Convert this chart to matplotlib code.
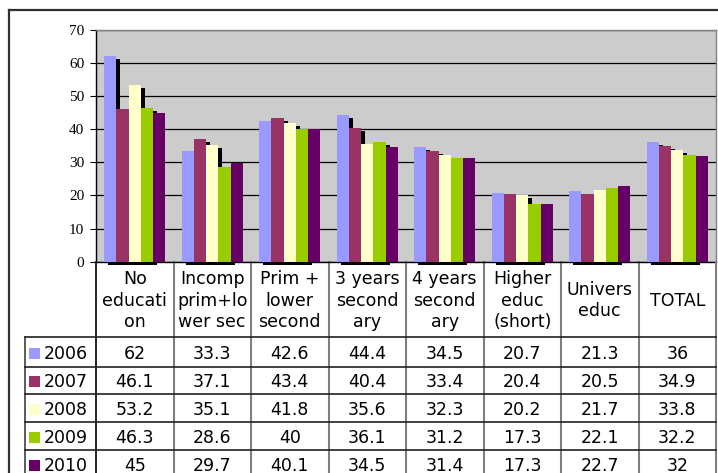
import numpy as np
import matplotlib
matplotlib.use("Agg")
import matplotlib.pyplot as plt
from matplotlib.lines import Line2D
from matplotlib.patches import Rectangle
from matplotlib import transforms

categories = ["No\neducati\non", "Incomp\nprim+lo\nwer sec", "Prim +\nlower\nsecond",
              "3 years\nsecond\nary", "4 years\nsecond\nary", "Higher\neduc\n(short)",
              "Univers\neduc", "TOTAL"]
years = ["2006", "2007", "2008", "2009", "2010"]
v2006 = [62, 33.3, 42.6, 44.4, 34.5, 20.7, 21.3, 36]
v2007 = [46.1, 37.1, 43.4, 40.4, 33.4, 20.4, 20.5, 34.9]
v2008 = [53.2, 35.1, 41.8, 35.6, 32.3, 20.2, 21.7, 33.8]
v2009 = [46.3, 28.6, 40, 36.1, 31.2, 17.3, 22.1, 32.2]
v2010 = [45, 29.7, 40.1, 34.5, 31.4, 17.3, 22.7, 32]
series = [v2006, v2007, v2008, v2009, v2010]
colors = ["#9999FF", "#993366", "#FFFFCC", "#99CC00", "#660066"]

W, H = 718, 473


def fx(px):
    return px / W


def fy(py):
    return 1 - py / H


fig = plt.figure(figsize=(W / 100, H / 100), dpi=100)
fig.patch.set_facecolor("white")

# plot area in pixels
left, right, top, bottom = 96, 716, 29.7, 261.7
ax = fig.add_axes([fx(left), fy(bottom), (right - left) / W, (bottom - top) / H])
ax.set_facecolor("#CCCCCC")

x = np.arange(len(categories))
bw = 0.157
offs = (np.arange(len(years)) - 2) * bw
ymax = 70
# shadow offset: 4px right, 3px down
sdx = 4 * len(categories) / (right - left)
sdy = 3 * ymax / (bottom - top)

for i, vals in enumerate(series):
    if i < 4:
        ax.bar(x + offs[i] + sdx, vals, bw, bottom=-sdy, color="black",
               linewidth=0, zorder=2, clip_on=False)
    ax.bar(x + offs[i], vals, bw, color=colors[i], linewidth=0, zorder=3)

ax.set_xlim(-0.5, len(categories) - 0.5)
ax.set_ylim(0, ymax)
ax.set_yticks(range(0, 71, 10))
ax.set_xticks([])
ax.yaxis.grid(True, color="black", linewidth=0.9)
ax.set_axisbelow(True)
ax.tick_params(axis="y", direction="out", length=4.5, width=0.8, pad=4, labelsize=11)
for lab in ax.get_yticklabels():
    lab.set_fontfamily("Liberation Serif")
ax.spines["left"].set_color("black")
ax.spines["bottom"].set_color("black")
ax.spines["top"].set_color("#808080")
ax.spines["right"].set_color("#808080")
for s in ax.spines.values():
    s.set_linewidth(1.0)

# data table under the chart
tr = transforms.blended_transform_factory(ax.transData, fig.transFigure)
fs = 12.5
head_top, head_bot = bottom, 337.3
row_lines = [337.3, 366.7, 394.3, 422.3, 450.3, 478.3]


def hline(x0, x1, y, color="#202020", lw=1.2):
    fig.add_artist(Line2D([fx(x0), fx(x1)], [fy(y), fy(y)], transform=fig.transFigure,
                          color=color, linewidth=lw))


def vline(xp, y0, y1, color="#808080", lw=1.5):
    fig.add_artist(Line2D([fx(xp), fx(xp)], [fy(y0), fy(y1)], transform=fig.transFigure,
                          color=color, linewidth=lw))


for b in range(1, len(categories)):
    ax.add_artist(Line2D([b - 0.5, b - 0.5], [fy(head_top), 0], transform=tr,
                         color="#808080", linewidth=1.5, clip_on=False))
vline(right, head_top, H, color="#808080")
vline(left, head_top, H, color="black", lw=1.2)
vline(25, row_lines[0], H, color="#404040", lw=1.2)
for yl in row_lines[:-1]:
    hline(25, right, yl)

for j, cat in enumerate(categories):
    fig.text(j, fy((head_top + head_bot) / 2 + 1), cat, transform=tr, ha="center",
             va="center", fontsize=fs, linespacing=1.25)

for i, (yr, vals) in enumerate(zip(years, series)):
    yc = (row_lines[i] + row_lines[i + 1]) / 2 + 1.5
    fig.add_artist(Rectangle((fx(29), fy(yc + 5)), 11 / W, 11 / H,
                             transform=fig.transFigure, facecolor=colors[i],
                             edgecolor="none"))
    fig.text(fx(44), fy(yc), yr, ha="left", va="center", fontsize=fs)
    for j, v in enumerate(vals):
        fig.text(j, fy(yc), f"{v:g}", transform=tr, ha="center", va="center",
                 fontsize=fs)

# chart area border
hline(9, W, 10, color="#303030", lw=1.6)
vline(9, 10, H, color="#303030", lw=1.6)

fig.savefig("out.png", dpi=100)
